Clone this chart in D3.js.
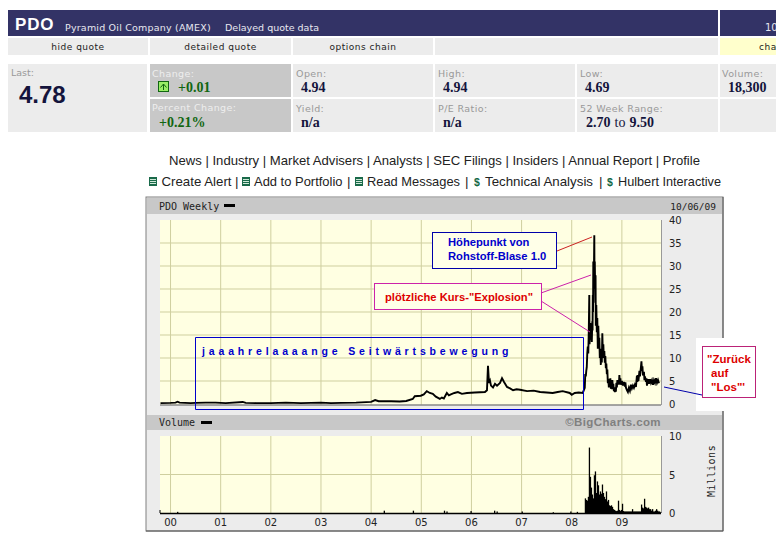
<!DOCTYPE html>
<html>
<head>
<meta charset="utf-8">
<style>
body{margin:0;background:#fff;}
svg{display:block;}
</style>
</head>
<body>
<div class="canvas"></div>
<script src="https://cdn.jsdelivr.net/npm/d3@7"></script>
<script>
// weekly close
const priceDates = [1999.8,2000.0,2000.1,2000.14,2000.18,2000.4,2000.5,2000.7,2000.9,2001.1,2001.44,2001.5,2001.7,2002.0,2002.3,2002.6,2003.0,2003.2,2003.4,2003.7,2004.0,2004.08,2004.15,2004.4,2004.57,2004.7,2004.83,2004.87,2004.99,2005.05,2005.11,2005.17,2005.23,2005.29,2005.37,2005.41,2005.45,2005.51,2005.55,2005.59,2005.66,2005.73,2005.81,2005.91,2006.07,2006.27,2006.31,2006.33,2006.35,2006.37,2006.39,2006.43,2006.47,2006.51,2006.57,2006.61,2006.65,2006.71,2006.77,2006.83,2006.9,2006.97,2007.11,2007.24,2007.37,2007.5,2007.62,2007.72,2007.82,2007.96,2008.0,2008.06,2008.14,2008.22,
2008.26,2008.27,2008.28,2008.29,2008.30,2008.31,2008.32,2008.33,2008.34,2008.35,2008.355,2008.36,2008.37,2008.38,2008.39,2008.40,2008.41,2008.415,2008.42,2008.425,2008.43,2008.44,2008.45,2008.455,2008.46,2008.47,2008.475,2008.48,2008.49,2008.50,2008.51,2008.52,2008.53,2008.54,2008.55,2008.56,2008.57,2008.58,2008.59,2008.60,2008.61,2008.62,2008.63,2008.64,2008.65,2008.66,2008.67,2008.68,2008.69,2008.70,2008.71,2008.72,2008.73,2008.74,2008.75,2008.76,2008.77,2008.78,2008.79,2008.80,2008.81,2008.82,2008.83,2008.84,2008.85,2008.86,2008.87,2008.88,2008.89,2008.90,2008.91,2008.92,2008.93,2008.94,2008.95,2008.96,2008.97,2008.98,2009.0,2009.02,2009.04,2009.06,2009.07,2009.08,2009.10,2009.12,2009.14,2009.16,2009.18,2009.20,2009.22,2009.24,2009.26,2009.28,2009.30,2009.31,2009.32,2009.33,2009.35,2009.36,2009.38,2009.39,2009.40,2009.41,2009.42,2009.44,2009.45,2009.46,2009.48,2009.49,2009.50,2009.52,2009.54,2009.56,2009.58,2009.60,2009.62,2009.64,2009.66,2009.68,2009.70,2009.72,2009.74];
const priceValues = [0.2,0.25,0.3,0.5,0.3,0.2,0.25,0.3,0.3,0.2,0.45,0.25,0.2,0.2,0.3,0.2,0.3,0.2,0.25,0.3,0.45,0.85,0.6,0.6,0.55,0.65,1.1,1.7,1.8,2.1,2.8,2.4,2.2,1.6,1.1,1.4,1.2,2.4,1.9,2.1,2.4,2.6,2.2,2.4,2.5,2.6,3.0,8.3,4.6,5.1,4.0,3.6,4.4,4.0,4.6,5.6,4.8,3.7,3.4,3.0,3.2,3.1,2.8,2.9,2.6,2.5,2.4,2.6,2.8,2.4,2.0,2.4,2.5,2.4,
3.5,6.5,6.0,7.2,8,11,12.5,11,16,23.7,13,14.4,17.6,14,17,13.5,18,16,23.7,20,31,26,36.7,25,31,22,28,17,21.5,15.6,18.7,12,17,13,14.4,10,12,8.5,11,9,15.4,11,13,10,11.5,9,10.4,7.8,8.8,6.5,7.5,4.5,5.5,3.6,5,3.8,5.6,3.3,4.5,3.2,5.2,3.5,4.4,2.8,3.6,2.6,3.4,2.7,4.6,3.6,5.2,4.4,5,4.2,6.3,4.6,5.6,4.2,5,4,4.8,3.8,4.7,3.6,3.0,2.6,3.5,2.9,4.2,3.4,4,3.5,4.2,3.7,6.2,4.8,6.3,5,7.2,6,8,9.3,7.2,8.2,6.2,7,5.2,6,4.8,5.6,4,5.4,4.4,5.4,4.6,5.2,4.2,5.2,4.6,5.6,4.6,5.2,4.5];

// volume in millions
const volDates = [2000.13,2004.25,2004.83,2005.45,2005.5,2005.98,2006.45,2006.5,2007.0,2007.62,2007.97,2008.1,2008.26,2008.28,2008.3,2008.32,2008.34,2008.36,2008.38,2008.4,2008.42,2008.44,2008.46,2008.48,2008.5,2008.52,2008.54,2008.56,2008.58,2008.6,2008.62,2008.64,2008.66,2008.68,2008.7,2008.72,2008.74,2008.76,2008.78,2008.8,2008.82,2008.84,2008.86,2008.88,2008.9,2008.92,2008.94,2008.96,2008.98,2009.0,2009.02,2009.04,2009.06,2009.08,2009.1,2009.12,2009.14,2009.16,2009.18,2009.2,2009.22,2009.24,2009.26,2009.28,2009.3,2009.32,2009.34,2009.36,2009.38,2009.4,2009.42,2009.44,2009.46,2009.48,2009.5,2009.52,2009.54,2009.56,2009.58,2009.6,2009.62,2009.64,2009.66,2009.68,2009.7,2009.72,2009.74,2009.76];
const volValues = [0.15,0.3,0.3,0.3,0.2,0.25,0.3,0.2,0.2,0.1,0.2,0.15,1.9,1.7,1.6,2.1,8.5,4.7,3.3,2.4,1.9,4.9,5.4,2.6,4.1,3.6,2.4,2.8,2.5,3.7,2.6,2.1,1.8,2.8,1.5,1.7,1.0,0.9,1.0,0.8,0.5,0.4,0.3,0.25,0.3,1.6,0.4,0.25,0.4,1.2,0.25,0.2,0.2,0.2,0.2,0.2,0.2,0.2,0.2,0.5,0.2,0.2,0.2,0.2,0.2,0.2,0.2,0.2,1.1,0.7,0.6,1.85,0.8,0.7,0.6,0.7,0.5,0.5,0.3,0.5,0.2,0.2,0.3,0.5,0.3,0.2,0.2,0.1];

const yearTicks = [2000,2001,2002,2003,2004,2005,2006,2007,2008,2009];
const yearLabels = ['00','01','02','03','04','05','06','07','08','09'];
const priceTicks = [0,5,10,15,20,25,30,35,40];
const volTicks = [0,5,10];

const quoteLinks = ['hide quote','detailed quote','options chain','','cha'];
const navLinks = 'News | Industry | Market Advisers | Analysts | SEC Filings | Insiders | Annual Report | Profile';
const toolLinks = ['Create Alert','Add to Portfolio','Read Messages','Technical Analysis','Hulbert Interactive'];

const svg = d3.select('.canvas').append('svg').attr('width',776).attr('height',546);

const rect = (x,y,w,h,fill) => svg.append('rect').attr('x',x).attr('y',y).attr('width',w).attr('height',h).attr('fill',fill);
const label = (x,y,str,font,size,fill,extra={}) => {
    const t = svg.append('text').attr('x',x).attr('y',y).attr('font-family',font).attr('font-size',size).attr('fill',fill).text(str);
    Object.entries(extra).forEach(([k,v]) => t.attr(k,v));
    return t;
};
const line = (x1,y1,x2,y2,stroke,w=1) => svg.append('line').attr('x1',x1).attr('y1',y1).attr('x2',x2).attr('y2',y2).attr('stroke',stroke).attr('stroke-width',w);

const sans = 'DejaVu Sans', arial = 'Liberation Sans', serif = 'Liberation Serif', mono = 'DejaVu Sans Mono';
const navy = '#333366', cell = '#ececec', dim = '#999999', val = '#14143c', up = '#116611';

// header
rect(8,10,710,26,navy);
rect(720,10,56,26,navy);
label(15,30,'PDO',arial,17,'#fff',{'font-weight':'bold','letter-spacing':'0.8'});
label(65,31,'Pyramid Oil Company (AMEX)',sans,9.5,'#e8e8f0',{'letter-spacing':'0.2'});
label(225,31,'Delayed quote data',sans,9.5,'#e8e8f0');
label(765,31,'10',sans,10,'#e8e8f0');

const linkCells = [[8,140],[150,141],[293,140],[435,283],[720,56]];
linkCells.forEach((c,i) => {
    rect(c[0],38,c[1],17,i==4?'#ffffcc':cell);
    if(quoteLinks[i]) label(i==4?759:c[0]+c[1]/2,50,quoteLinks[i],sans,9,'#222',{'text-anchor':i==4?'start':'middle','letter-spacing':'0.5'});
});

// quote table
rect(8,64,139,68,cell);
label(11,76,'Last:',sans,9.5,dim);
label(19,103,'4.78',arial,24,val,{'font-weight':'bold'});
rect(150,64,141,33,'#c8c8c8');
rect(150,99,141,33,'#c8c8c8');
label(152,77,'Change:',sans,9.5,'#eee',{'letter-spacing':'0.4'});
label(152,111,'Percent Change:',sans,9.5,'#eee',{'letter-spacing':'0.4'});
rect(158.5,81.5,10,10,'#99ee66').attr('stroke','#116611');
svg.append('path').attr('d','M160.5 87.5 L163.5 84 L166.5 87.5 M163.5 84 V90').attr('fill','none').attr('stroke','#116611');
label(178,92,'+0.01',serif,14,up,{'font-weight':'bold'});
label(159,127,'+0.21%',serif,14,up,{'font-weight':'bold'});

const quoteCols = [[293,140],[435,140],[577,141]];
const quoteTop = [['Open:','4.94'],['High:','4.94'],['Low:','4.69']];
const quoteBot = [['Yield:','n/a'],['P/E Ratio:','n/a']];
quoteCols.forEach((c,i) => {
    rect(c[0],64,c[1],33,cell);
    rect(c[0],99,c[1],33,cell);
    label(c[0]+3,77,quoteTop[i][0],sans,9.5,dim,{'letter-spacing':'0.4'});
    label(c[0]+8,92,quoteTop[i][1],serif,14,val,{'font-weight':'bold'});
    if(quoteBot[i]){
        label(c[0]+3,112,quoteBot[i][0],sans,9.5,dim,{'letter-spacing':'0.4'});
        label(c[0]+8,127,quoteBot[i][1],serif,14,val,{'font-weight':'bold'});
    }
});
label(580,112,'52 Week Range:',sans,9.5,dim,{'letter-spacing':'0.4'});
const rangeText = label(586,127,'',serif,14,val,{'font-weight':'bold'});
rangeText.append('tspan').text('2.70');
rangeText.append('tspan').attr('font-weight','normal').attr('dx',4).text('to');
rangeText.append('tspan').attr('dx',4).text('9.50');
rect(720,64,56,33,cell);
rect(720,99,56,33,cell);
label(722,77,'Volume:',sans,9.5,dim,{'letter-spacing':'0.4'});
label(728,92,'18,300',serif,14,val,{'font-weight':'bold'});

// link rows
label(169,165,navLinks,arial,13.5,'#222',{'textLength':531,'lengthAdjust':'spacingAndGlyphs'});
const toolX = [161.5,254,367,485,618];
const toolW = [70,88.5,93,108,103];
const sepX = [235,347,465,599];
const iconX = [149,242,355];
const dollarX = [474,607];
toolLinks.forEach((d,i) => label(toolX[i],186,d,arial,13.5,'#222',{'textLength':toolW[i],'lengthAdjust':'spacingAndGlyphs'}));
sepX.forEach(x => label(x,186,'|',arial,13.5,'#222'));
iconX.forEach(x => {
    rect(x,177,8,9,'#1a6a4a');
    [2,4,6].forEach(o => rect(x+1,177+o,6,1,'#cfe8d8'));
});
dollarX.forEach(x => label(x,186,'$',arial,10.5,'#116644',{'font-weight':'bold'}));

// chart frame
rect(146,197,577,334,cell).attr('stroke','#808080');
rect(147,198,575,16,'#c8c8c8');
rect(147,415,575,15,'#c8c8c8');
line(723,197,723,531,'#555');
line(146,531,723,531,'#555');

const plotL = 160, plotR = 661;
const x = d3.scaleLinear().domain([1999.79,2009.78]).range([plotL,plotR]);
const yPrice = d3.scaleLinear().domain([0,40]).range([404,220]);
const yVol = d3.scaleLinear().domain([0,10]).range([513,436]);

const panel = (y0,y1,yScale,ticks) => {
    rect(plotL,y0,plotR-plotL,y1-y0,'#ffffe2');
    const g = svg.append('g');
    g.selectAll('.v').data(yearTicks).enter().append('line')
        .attr('x1',d=>x(d)).attr('x2',d=>x(d)).attr('y1',y0).attr('y2',y1)
        .attr('stroke','#cfcf9f');
    g.selectAll('.h').data(ticks.slice(1,-1)).enter().append('line')
        .attr('x1',plotL).attr('x2',plotR).attr('y1',d=>yScale(d)).attr('y2',d=>yScale(d))
        .attr('stroke','#cfcf9f');
    line(plotR+0.5,y0,plotR+0.5,y1,'#999');
};
panel(220,405,yPrice,priceTicks);
panel(436,513,yVol,volTicks);

// price
line(plotL,405,plotR,405,'#888',1.5);
svg.append('path').datum(priceDates.map((d,i)=>[d,priceValues[i]]))
    .attr('d',d3.line().x(d=>x(d[0])).y(d=>yPrice(d[1])))
    .attr('fill','none').attr('stroke','#000').attr('stroke-width',1.9);

// volume
svg.selectAll('.bar').data(volDates.map((d,i)=>[d,volValues[i]])).enter().append('rect')
    .attr('x',d=>x(d[0])).attr('width',x(2000.026)-x(2000))
    .attr('y',d=>yVol(d[1])).attr('height',d=>yVol(0)-yVol(d[1])).attr('fill','#000');
line(plotL,513.5,plotR,513.5,'#000',1.5);
line(plotL,510,plotL,513,'#000');

// axis text
priceTicks.forEach(d => label(669,yPrice(d)+4,d,sans,10,'#222'));
volTicks.forEach(d => label(669,yVol(d)+4,d,sans,10,'#222'));
yearTicks.forEach((d,i) => label(x(d),526,yearLabels[i],sans,10,'#222',{'text-anchor':'middle'}));
label(159,210,'PDO Weekly',mono,10,'#222');
rect(224,204,11,3,'#000');
label(159,426,'Volume',mono,10,'#222');
rect(201,421,11,3,'#000');
label(716,210,'10/06/09',mono,9.5,'#222',{'text-anchor':'end'});
label(661,426,'©BigCharts.com',arial,11.5,'#808080',{'text-anchor':'end','font-weight':'bold','letter-spacing':'0.4'});
label(0,0,'Millions',mono,10,'#222',{'transform':'translate(715,497) rotate(-90)','letter-spacing':'0.5'});

// annotations
const blue = '#0000cc', magenta = '#cc22aa';
line(557,251,592,237,'#cc2222');
line(541,293,591,275,magenta);
line(541,301,590,332,magenta);
rect(432.5,232.5,124,36,'#ffffe8').attr('stroke','#0000aa');
label(448,246,'Höhepunkt von',arial,11.2,'#0000cc',{'font-weight':'bold'});
label(448,260,'Rohstoff-Blase 1.0',arial,11.2,'#0000cc',{'font-weight':'bold'});
rect(374.5,283.5,167,26,'#ffffe8').attr('stroke',magenta);
label(385,301,'plötzliche Kurs-"Explosion"',arial,11.2,'#dd0000',{'font-weight':'bold'});
// long sideways box, four sides so it stays see-through
line(195.5,337.5,583.5,337.5,blue);
line(583.5,337.5,583.5,409.5,blue);
line(583.5,409.5,195.5,409.5,blue);
line(195.5,409.5,195.5,337.5,blue);
label(202,355,'jaaahrelaaaange Seitwärtsbewegung',arial,10.5,'#0000cc',{'font-weight':'bold','letter-spacing':'3.85'});

rect(696,338,80,73,'#fff');
line(664,387,702,395,'#0000aa');
rect(702.5,346.5,53,51,'#fff').attr('stroke','#bb2277');
label(707,363,'"Zurück',arial,11.5,'#dd0000',{'font-weight':'bold'});
label(711,377,'auf',arial,11.5,'#dd0000',{'font-weight':'bold'});
label(711,391,'"Los"\'',arial,11.5,'#dd0000',{'font-weight':'bold'});
</script>
</body>
</html>
